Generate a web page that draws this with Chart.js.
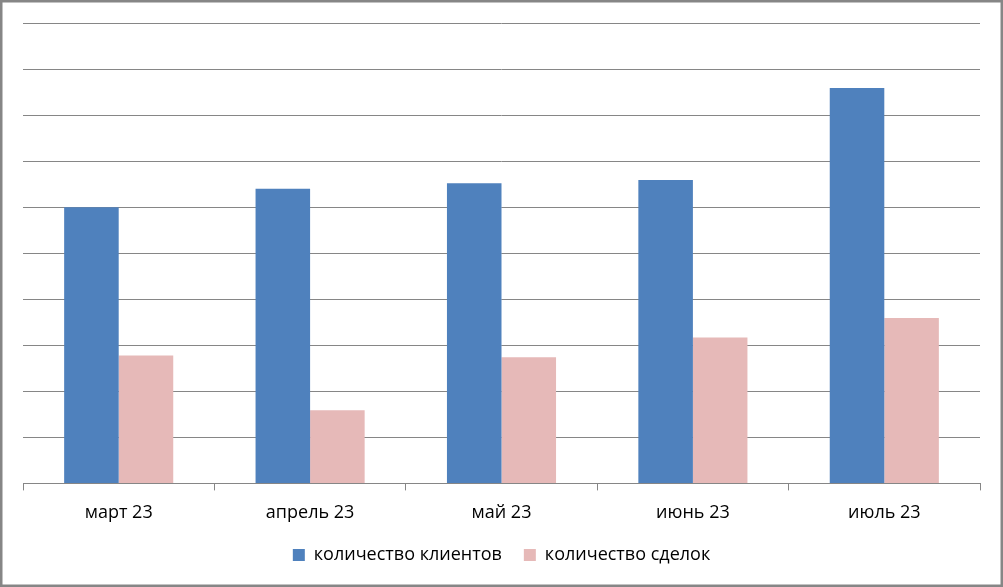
<!DOCTYPE html>
<html>
<head>
<meta charset="utf-8">
<script src="https://cdn.jsdelivr.net/npm/chart.js@4/dist/chart.umd.min.js"></script>
<style>
  html, body { margin: 0; padding: 0; background: #fff; }
  #wrap { width: 1003px; height: 587px; position: relative; }
</style>
</head>
<body>
<div id="wrap"><canvas id="myChart" width="1003" height="587"></canvas></div>
<script>
// Data
let months = ['март 23', 'апрель 23', 'май 23', 'июнь 23', 'июль 23'];
let clients = [60, 64, 65.2, 65.9, 85.9];
let deals = [27.8, 15.9, 27.4, 31.7, 35.9];
let seriesNames = ['количество клиентов', 'количество сделок'];

let gridGray = '#868686';

// frame around the whole picture
let framePlugin = {
  id: 'frame',
  afterLayout(chart) {
    // pull the legend a bit closer to the axis labels
    let lg = chart.legend;
    lg.top -= 12;
    lg.bottom -= 12;
  },
  afterDraw(chart) {
    let c = chart.ctx;
    c.save();
    c.strokeStyle = gridGray;
    c.lineWidth = 2.5;
    c.strokeRect(1.25, 1.25, chart.width - 2.5, chart.height - 2.5);
    c.restore();
  }
};

var ctx = document.getElementById('myChart').getContext('2d');
var myChart = new Chart(ctx, {
  type: 'bar',
  data: {
    labels: months,
    datasets: [{
      label: seriesNames[0],
      data: clients,
      backgroundColor: '#4F81BD'
    }, {
      label: seriesNames[1],
      data: deals,
      backgroundColor: '#E6B9B8'
    }]
  },
  options: {
    responsive: false,
    animation: false,
    layout: { padding: { left: 23, right: 23, top: 23, bottom: 1 } },
    datasets: { bar: { categoryPercentage: 0.57, barPercentage: 1.0 } },
    scales: {
      x: {
        grid: { display: true, drawOnChartArea: false, color: gridGray, tickLength: 7, offset: true },
        border: { color: gridGray },
        ticks: { color: '#000', font: { family: 'Open Sans', size: 18 }, padding: 12 }
      },
      y: {
        min: 0, max: 100,
        ticks: { display: false, stepSize: 10 },
        grid: { color: gridGray, drawTicks: false },
        border: { display: false }
      }
    },
    plugins: {
      legend: {
        position: 'bottom',
        labels: {
          color: '#000',
          font: { family: 'Open Sans', size: 18 },
          boxWidth: 12, boxHeight: 12,
          padding: 22
        }
      },
      tooltip: { enabled: false }
    }
  },
  plugins: [framePlugin]
});
</script>
</body>
</html>
